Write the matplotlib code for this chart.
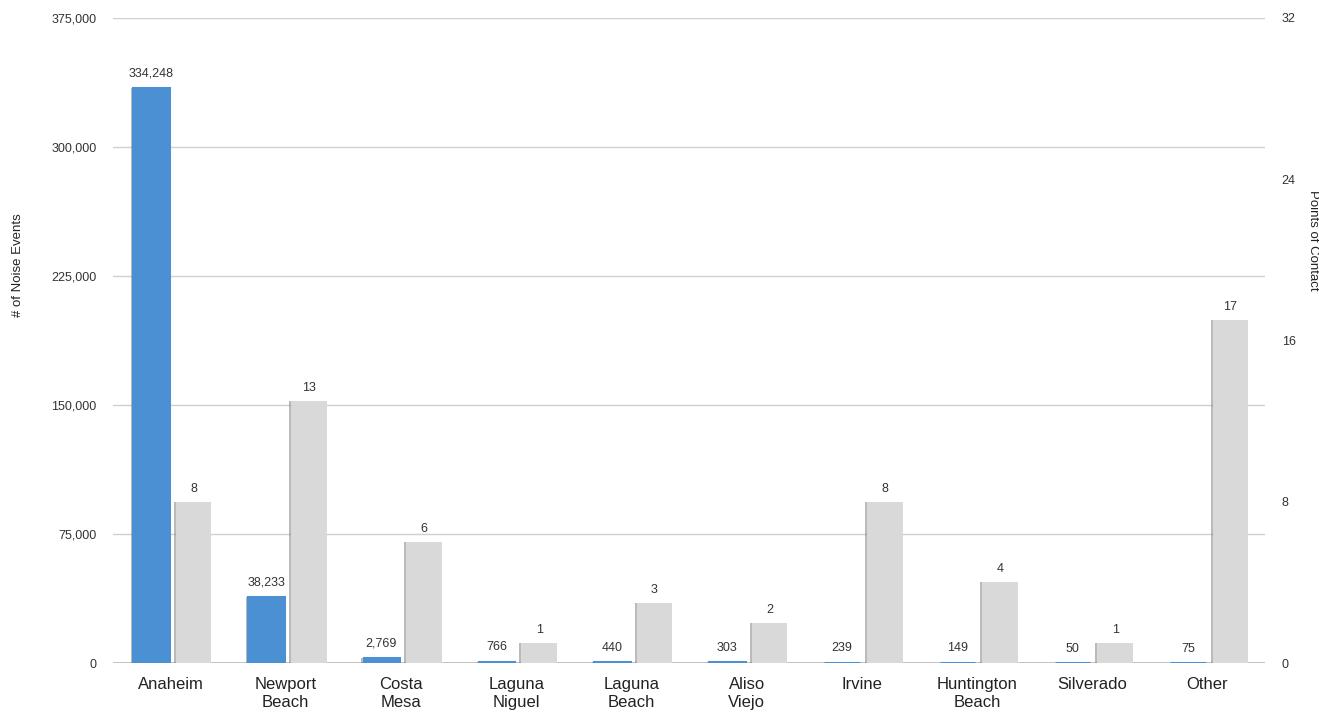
import matplotlib
matplotlib.use("Agg")
import matplotlib.pyplot as plt
from matplotlib.ticker import FuncFormatter, FixedLocator
import matplotlib.patheffects as pe

plt.rcParams['font.family'] = ['Liberation Sans', 'DejaVu Sans']

categories = ["Anaheim", "Newport\nBeach", "Costa\nMesa", "Laguna\nNiguel", "Laguna\nBeach",
              "Aliso\nViejo", "Irvine", "Huntington\nBeach", "Silverado", "Other"]
noise_events = [334248, 38233, 2769, 766, 440, 303, 239, 149, 50, 75]
points_of_contact = [8, 13, 6, 1, 3, 2, 8, 4, 1, 17]
left_ticks = [0, 75000, 150000, 225000, 300000, 375000]
right_ticks = [0, 8, 16, 24, 32]

blue = "#4a90d2"
gray = "#d9d9d9"
txt = "#333333"

fig = plt.figure(figsize=(13.19, 7.13), dpi=100)
ax = fig.add_axes([113/1319, 1-663/713, (1265-113)/1319, (663-18)/713])
ax2 = ax.twinx()

x = list(range(len(categories)))
w = 0.31
xb = [i - 0.17 for i in x]
xg = [i + 0.20 for i in x]

shadow = [pe.SimplePatchShadow(offset=(-1.5, 0), shadow_rgbFace="#777777", alpha=0.5), pe.Normal()]

bb = ax.bar(xb, noise_events, width=w, color=blue, edgecolor=blue, linewidth=2.2,
            zorder=3, path_effects=shadow)
bg = ax2.bar(xg, points_of_contact, width=w, color=gray, zorder=3, path_effects=shadow)

ax.set_xlim(-0.5, len(categories) - 0.5)
ax.set_ylim(0, 375000)
ax2.set_ylim(0, 32)

ax.yaxis.set_major_locator(FixedLocator(left_ticks))
ax.yaxis.set_major_formatter(FuncFormatter(lambda v, p: f"{int(v):,}"))
ax2.yaxis.set_major_locator(FixedLocator(right_ticks))

ax.grid(axis='y', color="#d0d0d0", linewidth=1, zorder=0)
ax.set_axisbelow(True)

for a in (ax, ax2):
    for s in ("top", "left", "right", "bottom"):
        a.spines[s].set_visible(False)

ax.axhline(0, color="#bbbbbb", linewidth=1.2, zorder=2)

ax.tick_params(axis='y', length=0, pad=12, labelsize=9, labelcolor=txt)
ax2.tick_params(axis='y', length=0, pad=12, labelsize=9, labelcolor=txt)
ax.set_xticks(x)
ax.set_xticklabels(categories, fontsize=12, color="#222222", linespacing=1.3)
ax.tick_params(axis='x', length=0, pad=10)

for xi, v in zip(xb, noise_events):
    ax.annotate(f"{v:,}", (xi, v), xytext=(0, 6), textcoords="offset points",
                ha="center", va="bottom", fontsize=9, color=txt)
for xi, v in zip(xg, points_of_contact):
    ax2.annotate(f"{v}", (xi, v), xytext=(0, 5), textcoords="offset points",
                 ha="center", va="bottom", fontsize=9, color=txt)

fig.text(18/1319, 1-265/713, "# of Noise Events", rotation=90, ha="center", va="center",
         fontsize=9.5, color="#222222")
fig.text(1313/1319, 1-240/713, "Points of Contact", rotation=-90, ha="center", va="center",
         fontsize=9.5, color="#222222")

fig.savefig("out.png", dpi=100, facecolor="white")
